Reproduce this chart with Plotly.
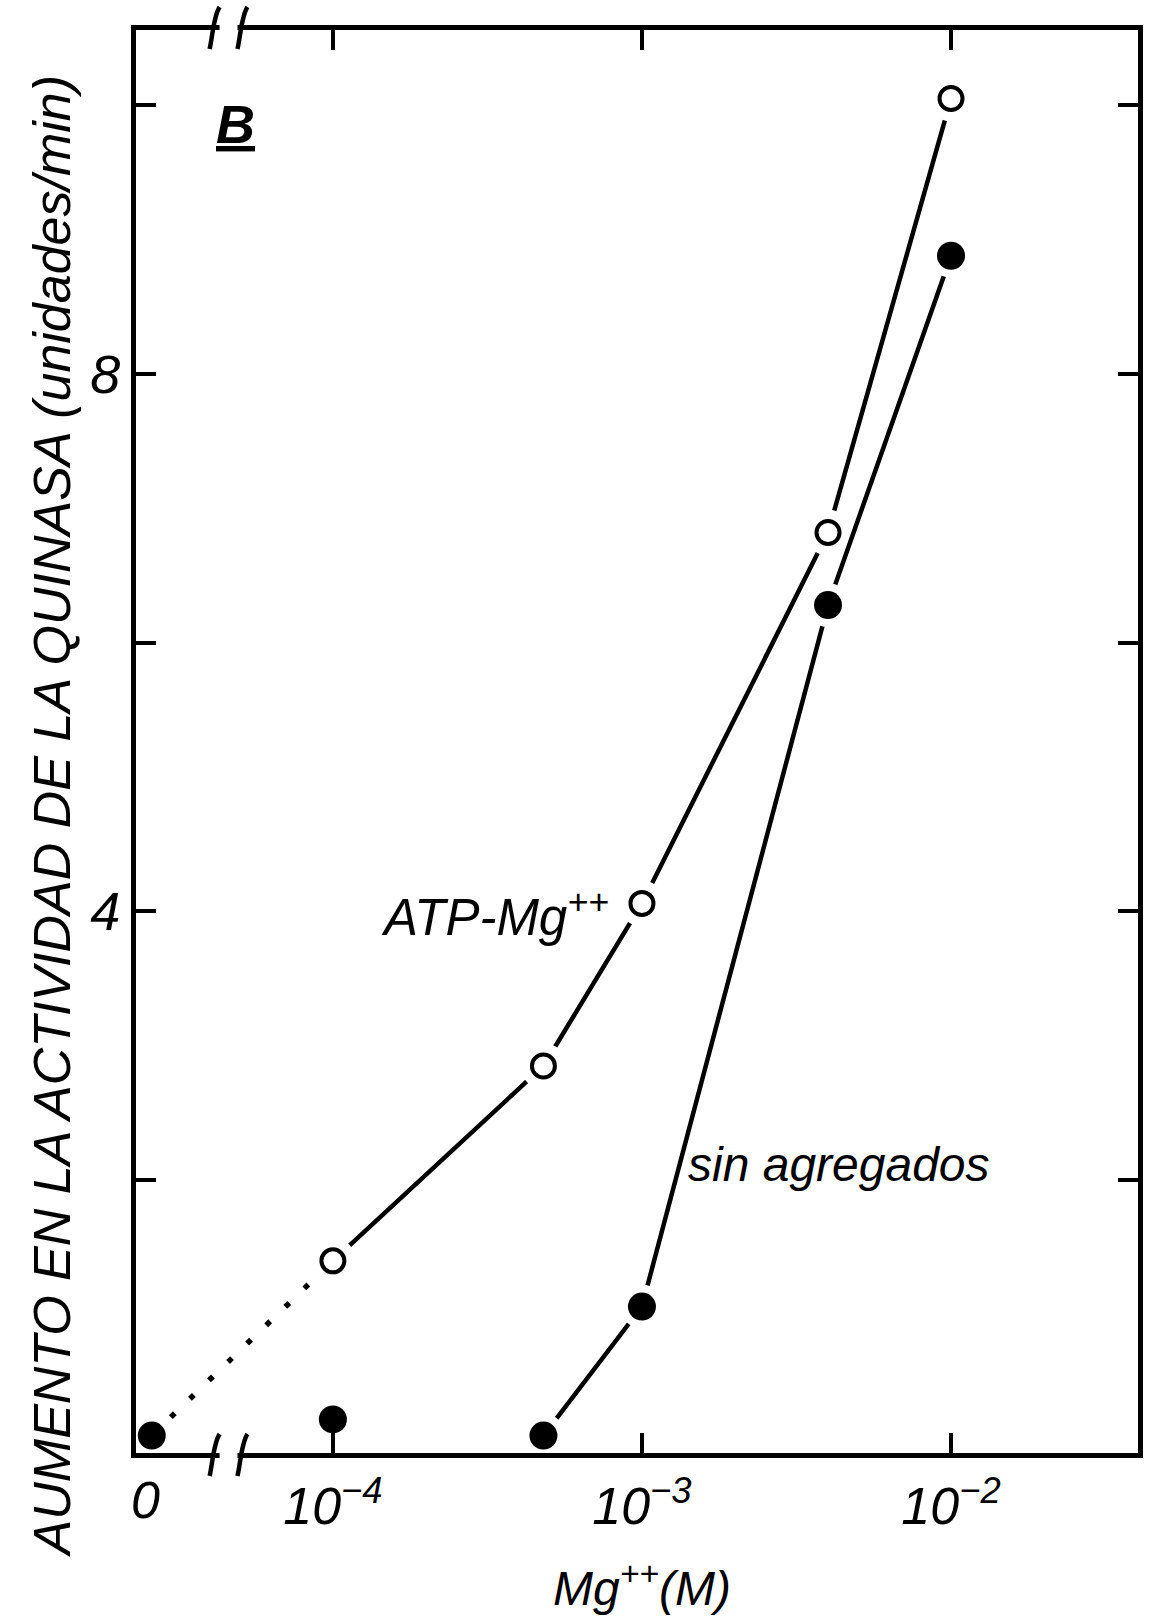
import plotly.graph_objects as go

# ---------------- data ----------------
mg_conc = [0, 1e-4, 4.8e-4, 1e-3, 4e-3, 1e-2]          # Mg++ (M)
atp_mg = [None, 1.40, 2.85, 4.06, 6.82, 10.05]           # ATP-Mg++  (open circles)
sin_agregados = [0.10, 0.22, 0.10, 1.06, 6.28, 8.88]     # sin agregados (filled circles)

x_tick_vals = [1e-4, 1e-3, 1e-2]
x_tick_text = ["10<sup>\u22124</sup>", "10<sup>\u22123</sup>", "10<sup>\u22122</sup>"]
y_tick_vals = [2, 4, 6, 8, 10]
y_tick_text = ["", "4", "", "8", ""]

# ---------------- layout constants ----------------
W, H = 1152, 1623
L, R, T, B = 136, 1143, 30, 1453          # plot area in pixels
ZERO_STAND_IN = 10 ** -4.586               # where "0" sits on the broken log axis
XRANGE = [-4.637, -1.395]
YRANGE = [-0.03, 10.56]
FONT = "Liberation Sans, Arial, sans-serif"


def xpos(c):
    return ZERO_STAND_IN if c == 0 else c


def px(X):
    return (X - L) / (R - L)


def py(Y):
    return (B - Y) / (B - T)


fig = go.Figure()

# dotted extrapolation from the zero point to the first ATP-Mg point
fig.add_trace(go.Scatter(
    x=[xpos(mg_conc[0]), xpos(mg_conc[1])], y=[sin_agregados[0], atp_mg[1]],
    mode="lines", line=dict(color="black", width=5.5, dash="5.5px,21px"),
    hoverinfo="skip", showlegend=False, cliponaxis=False))

# open series (ATP-Mg++)
xo = [xpos(c) for c in mg_conc[1:]]
yo = atp_mg[1:]
fig.add_trace(go.Scatter(x=xo, y=yo, mode="lines",
                         line=dict(color="black", width=4.5),
                         showlegend=False, cliponaxis=False))
fig.add_trace(go.Scatter(x=xo, y=yo, mode="markers",
                         marker=dict(color="white", size=46, line=dict(width=0)),
                         hoverinfo="skip", showlegend=False, cliponaxis=False))
fig.add_trace(go.Scatter(x=xo, y=yo, mode="markers",
                         marker=dict(color="white", size=23,
                                     line=dict(color="black", width=4)),
                         name="ATP-Mg++", showlegend=False, cliponaxis=False))

# filled series (sin agregados)
xf = [xpos(c) for c in mg_conc]
fig.add_trace(go.Scatter(x=xf[2:], y=sin_agregados[2:], mode="lines",
                         line=dict(color="black", width=4.5),
                         showlegend=False, cliponaxis=False))
fig.add_trace(go.Scatter(x=xf, y=sin_agregados, mode="markers",
                         marker=dict(color="white", size=44, line=dict(width=0)),
                         hoverinfo="skip", showlegend=False, cliponaxis=False))
fig.add_trace(go.Scatter(x=xf, y=sin_agregados, mode="markers",
                         marker=dict(color="black", size=28, line=dict(width=0)),
                         name="sin agregados", showlegend=False, cliponaxis=False))

# ---------------- axis breaks ----------------
shapes = []
for axY in (T - 2, B + 2):
    shapes.append(dict(type="rect", xref="paper", yref="paper",
                       x0=px(220), x1=px(238), y0=py(axY + 8), y1=py(axY - 8),
                       fillcolor="white", line=dict(width=0), layer="above"))
    for cx in (215, 243):
        path = "M {:.5f},{:.5f} C {:.5f},{:.5f} {:.5f},{:.5f} {:.5f},{:.5f}".format(
            px(cx + 5), py(axY - 21),
            px(cx - 1), py(axY - 12),
            px(cx - 2), py(axY + 8),
            px(cx - 5), py(axY + 21))
        shapes.append(dict(type="path", xref="paper", yref="paper", path=path,
                           line=dict(color="black", width=4.5), layer="above"))


def ann(text, X, Y, size, angle=0, **kw):
    return dict(text=text, xref="paper", yref="paper", x=px(X), y=py(Y),
                xanchor="center", yanchor="middle", showarrow=False,
                textangle=angle,
                font=dict(family=FONT, size=size, color="black", style="italic", **kw))


annotations = [
    ann("<u>B</u>", 236, 124, 54, weight="bold"),
    ann("ATP-Mg<sup>++</sup>", 497, 914, 51),
    ann("sin agregados", 843, 1164, 48),
    ann("0", 146, 1500, 52),
    ann("Mg<sup>++</sup>(M)", 645, 1585, 48),
    ann("AUMENTO EN LA ACTIVIDAD DE LA QUINASA (unidades/min)", 52, 816, 52, angle=-90),
]

axis_common = dict(showgrid=False, zeroline=False, showline=True, linewidth=5,
                   linecolor="black", mirror="ticks", ticks="inside", ticklen=20,
                   tickwidth=3.5, tickcolor="black")

fig.update_layout(
    width=W, height=H,
    margin=dict(l=L, r=W - R, t=T, b=H - B),
    paper_bgcolor="white", plot_bgcolor="white",
    font=dict(family=FONT, color="black", style="italic"),
    xaxis=dict(type="log", range=XRANGE, tickmode="array", tickvals=x_tick_vals,
               ticktext=x_tick_text, tickfont=dict(size=52, style="italic"),
               ticklabelstandoff=4, **axis_common),
    yaxis=dict(range=YRANGE, tickmode="array", tickvals=y_tick_vals,
               ticktext=y_tick_text, tickfont=dict(size=54, style="italic"),
               ticklabelstandoff=0, **axis_common),
    shapes=shapes, annotations=annotations, showlegend=False,
)

fig.write_html("out.html")
